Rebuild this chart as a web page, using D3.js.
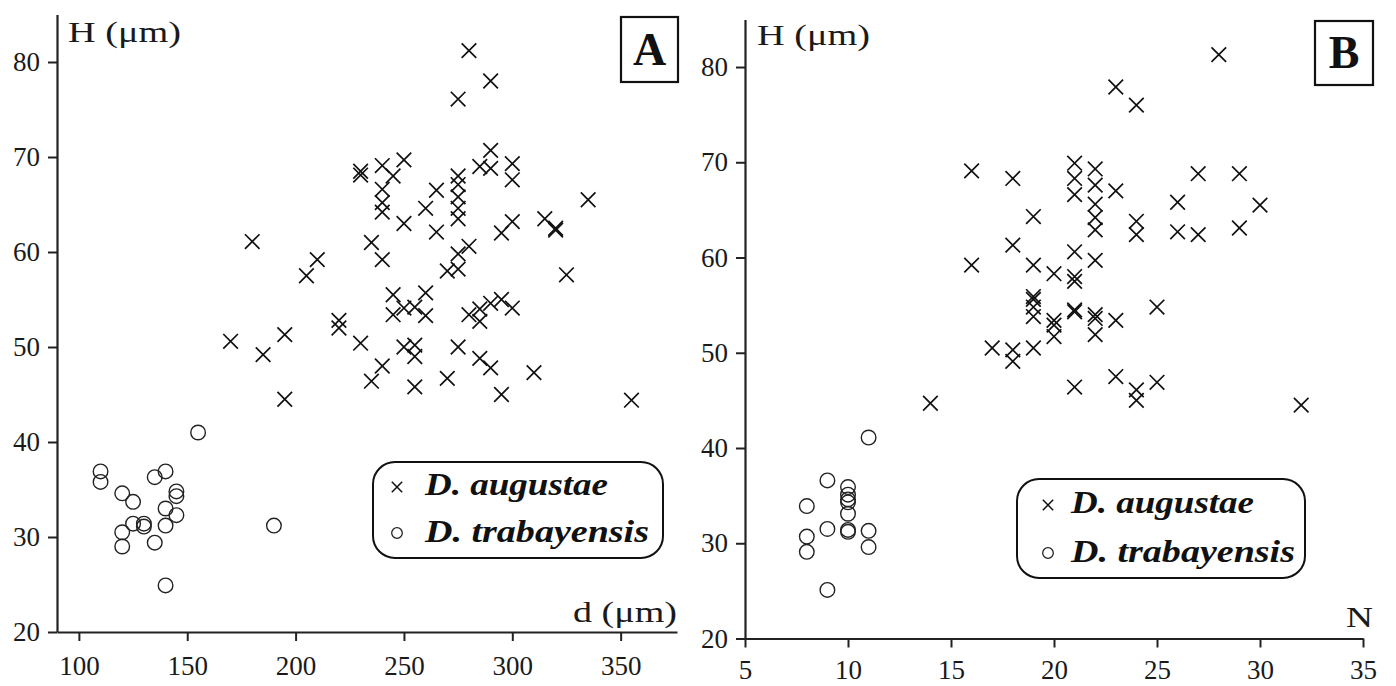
<!DOCTYPE html>
<html>
<head>
<meta charset="utf-8">
<script src="https://cdn.jsdelivr.net/npm/d3@7/dist/d3.min.js"></script>
<style>
  body { margin: 0; background: #fff; }
  svg { display: block; font-family: "Liberation Serif", "DejaVu Serif", serif; }
</style>
</head>
<body>
<div id="chart"></div>
<script>
// panel A: shell diameter d (µm) vs height H (µm)
const augustaeA = [
  [170,50.6],[185,49.2],[195,51.3],[195,44.5],[180,61.1],[205,57.5],[210,59.2],[220,52.8],[220,52],
  [230,50.4],[230,68.5],[230,68.1],[235,61],[235,46.4],[240,69.1],[240,66.6],[240,65.2],[240,64.2],
  [240,59.2],[240,48],[245,68],[245,55.5],[245,53.4],[250,69.7],[250,63],[250,54.1],[250,50],
  [255,54.2],[255,50.2],[255,49],[255,45.8],[260,64.6],[260,55.7],[260,53.3],[265,66.5],[265,62.1],
  [270,58],[270,46.7],[275,76.1],[275,68],[275,67.1],[275,65.8],[275,64.6],[275,63.5],[275,59.8],
  [275,58.2],[275,50],[280,81.2],[280,60.6],[280,53.4],[285,69],[285,54],[285,52.7],[285,48.8],
  [290,78],[290,70.7],[290,68.8],[290,54.6],[290,47.8],[295,62],[295,55],[295,45],[300,69.3],
  [300,67.6],[300,63.2],[300,54.1],[310,47.3],[315,63.5],[320,62.5],[320,62.3],[325,57.6],
  [335,65.5],[355,44.4]
];
const trabayensisA = [
  [155,41],[110,36.9],[110,35.8],[135,36.3],[140,36.9],[120,34.6],[125,33.7],[145,34.8],[145,34.3],
  [140,33],[145,32.3],[125,31.4],[130,31.4],[130,31.1],[140,31.2],[120,30.5],[120,29],[135,29.4],
  [140,24.9],[190,31.2]
];

// panel B: number N vs height H (µm)
const augustaeB = [
  [14,44.7],[16,69.1],[16,59.2],[17,50.5],[18,68.3],[18,61.3],[18,50.3],[18,49.1],[19,64.3],
  [19,59.2],[19,55.9],[19,55.6],[19,54.8],[19,53.8],[19,50.5],[20,58.3],[20,53.4],[20,52.9],
  [20,51.7],[21,69.9],[21,68.3],[21,66.6],[21,60.6],[21,58],[21,57.5],[21,54.5],[21,54.3],
  [21,46.4],[22,69.3],[22,67.6],[22,65.6],[22,64.2],[22,62.9],[22,59.7],[22,54],[22,53.6],
  [22,51.9],[23,77.9],[23,67],[23,53.4],[23,47.5],[24,76],[24,63.8],[24,62.4],[24,46.1],
  [24,45],[25,54.8],[25,46.9],[26,65.8],[26,62.7],[27,68.8],[27,62.4],[28,81.3],[29,68.8],
  [29,63.1],[30,65.5],[32,44.5]
];
const trabayensisB = [
  [11,41.1],[9,36.6],[10,35.9],[10,35.1],[10,34.6],[10,34.3],[10,33.1],[8,33.9],[9,31.5],
  [10,31.4],[10,31.2],[11,31.3],[11,29.6],[8,30.7],[8,29.1],[9,25.1]
];

const ticksHeight = [20, 30, 40, 50, 60, 70, 80];
const ticksDiameter = [100, 150, 200, 250, 300, 350];
const ticksNumber = [5, 10, 15, 20, 25, 30, 35];
const speciesNames = ["D. augustae", "D. trabayensis"];

const width = 1396, height = 686;

const svg = d3.select("#chart")
  .append("svg")
  .attr("width", width)
  .attr("height", height);

function crossPath(s) {
  return "M" + (-s) + "," + (-s) + "L" + s + "," + s + "M" + (-s) + "," + s + "L" + s + "," + (-s);
}

function drawPanel(p) {
  const x = d3.scaleLinear().domain(p.xDomain).range(p.xRange),
        y = d3.scaleLinear().domain([20, 85]).range(p.yRange);

  const g = svg.append("g");

  // axes
  const xAxis = d3.axisBottom(x).tickValues(p.xTicks).tickSize(9).tickSizeOuter(0).tickPadding(p.xPad),
        yAxis = d3.axisLeft(y).tickValues(ticksHeight).tickSize(9).tickSizeOuter(0).tickPadding(8);

  const gx = g.append("g")
    .attr("transform", "translate(0," + p.yRange[0] + ")")
    .call(xAxis);
  const gy = g.append("g")
    .attr("transform", "translate(" + p.xRange[0] + ",0)")
    .call(yAxis);

  [gx, gy].forEach(function(a) {
    a.select(".domain").attr("stroke", "#222").attr("stroke-width", 2.2);
    a.selectAll(".tick line").attr("stroke", "#222").attr("stroke-width", 2);
    a.selectAll(".tick text")
      .attr("fill", "#1a1a1a")
      .style("font-family", "'Liberation Serif', serif")
      .style("font-size", "27px");
  });

  // axis titles (reference font is wider, so stretch to its measured width)
  g.append("text")
    .text("H (\u03bcm)")
    .attr("x", p.yTitle[0])
    .attr("y", p.yTitle[1])
    .attr("textLength", 113)
    .attr("lengthAdjust", "spacingAndGlyphs")
    .style("font-size", "29px")
    .attr("fill", "#1a1a1a");

  g.append("text")
    .text(p.xTitle)
    .attr("x", p.xTitlePos[0] - p.xTitleLen)
    .attr("y", p.xTitlePos[1])
    .attr("textLength", p.xTitleLen)
    .attr("lengthAdjust", "spacingAndGlyphs")
    .style("font-size", "29px")
    .attr("fill", "#1a1a1a");

  // panel letter
  g.append("rect")
    .attr("x", p.letterBox[0])
    .attr("y", p.letterBox[1])
    .attr("width", p.letterBox[2])
    .attr("height", p.letterBox[3])
    .attr("fill", "white")
    .attr("stroke", "#111")
    .attr("stroke-width", 2.2);
  g.append("text")
    .text(p.letter)
    .attr("x", p.letterBox[0] + p.letterBox[2] / 2)
    .attr("y", p.letterBox[1] + p.letterBox[3] - 17)
    .attr("text-anchor", "middle")
    .style("font-size", "46px")
    .style("font-weight", "bold")
    .attr("fill", "#111");

  // points
  g.append("g").selectAll("circle")
    .data(p.circles)
    .enter()
    .append("circle")
    .attr("cx", (d) => x(d[0]))
    .attr("cy", (d) => y(d[1]))
    .attr("r", 7.3)
    .attr("fill", "none")
    .attr("stroke", "#222")
    .attr("stroke-width", 1.4);

  g.append("g").selectAll("path")
    .data(p.crosses)
    .enter()
    .append("path")
    .attr("d", crossPath(7.3))
    .attr("transform", (d) => "translate(" + x(d[0]) + "," + y(d[1]) + ")")
    .attr("fill", "none")
    .attr("stroke", "#111")
    .attr("stroke-width", 1.7);

  // legend
  const L = p.legend;
  const gLegend = g.append("g");
  gLegend.append("rect")
    .attr("x", L.x)
    .attr("y", L.y)
    .attr("width", L.w)
    .attr("height", L.h)
    .attr("rx", 22)
    .attr("fill", "white")
    .attr("stroke", "#111")
    .attr("stroke-width", 2);

  gLegend.append("path")
    .attr("d", crossPath(5.2))
    .attr("transform", "translate(" + L.mx + "," + (L.rows[0] - 8) + ")")
    .attr("fill", "none")
    .attr("stroke", "#111")
    .attr("stroke-width", 1.5);
  gLegend.append("circle")
    .attr("cx", L.mx)
    .attr("cy", L.rows[1] - 9)
    .attr("r", 5.3)
    .attr("fill", "none")
    .attr("stroke", "#222")
    .attr("stroke-width", 1.3);

  const nameLen = [183, 224];
  speciesNames.forEach(function(name, i) {
    gLegend.append("text")
      .text(name)
      .attr("x", L.tx)
      .attr("y", L.rows[i])
      .attr("textLength", nameLen[i])
      .attr("lengthAdjust", "spacingAndGlyphs")
      .style("font-size", "31px")
      .style("font-style", "italic")
      .style("font-weight", "bold")
      .attr("fill", "#111");
  });
}

drawPanel({
  xDomain: [89.9, 376],
  xRange: [57, 677],
  yRange: [632, 14.5],
  xTicks: ticksDiameter,
  xPad: 15,
  crosses: augustaeA,
  circles: trabayensisA,
  yTitle: [68, 42],
  xTitle: "d (\u03bcm)",
  xTitleLen: 104,
  xTitlePos: [677, 622],
  letter: "A",
  letterBox: [621, 17, 57, 65],
  legend: { x: 373, y: 462, w: 290, h: 96, mx: 397, tx: 425, rows: [495, 542] }
});

drawPanel({
  xDomain: [5, 35],
  xRange: [745, 1363],
  yRange: [638.5, 19.4],
  xTicks: ticksNumber,
  xPad: 12,
  crosses: augustaeB,
  circles: trabayensisB,
  yTitle: [757, 45],
  xTitle: "N",
  xTitleLen: 27,
  xTitlePos: [1373, 627],
  letter: "B",
  letterBox: [1315, 21, 58, 64],
  legend: { x: 1017, y: 479, w: 288, h: 99, mx: 1048, tx: 1071, rows: [513, 562] }
});
</script>
</body>
</html>
